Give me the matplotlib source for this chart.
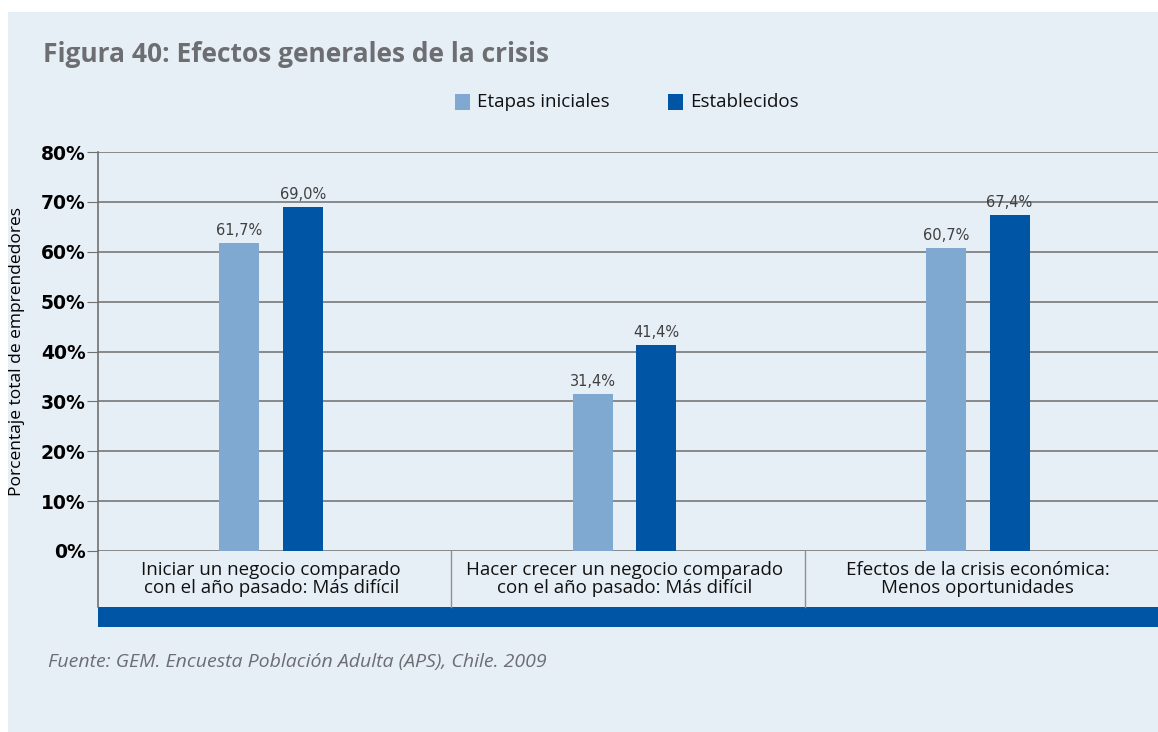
import matplotlib.pyplot as plt
from matplotlib.patches import Rectangle
from matplotlib.lines import Line2D

# data
categorias = ['Iniciar un negocio comparado\ncon el año pasado: Más difícil',
              'Hacer crecer un negocio comparado\ncon el año pasado: Más difícil',
              'Efectos de la crisis económica:\nMenos oportunidades']
etapas_iniciales = [61.7, 31.4, 60.7]
establecidos = [69.0, 41.4, 67.4]
series = ['Etapas iniciales', 'Establecidos']
yticks = [0, 10, 20, 30, 40, 50, 60, 70, 80]

c_claro = '#80a9d2'
c_oscuro = '#0055a4'
fondo = '#e6eef6'
gris = '#6d6e71'

plt.rcParams['font.family'] = ['Open Sans', 'DejaVu Sans']

W, H = 1158, 732
fig = plt.figure(figsize=(W / 100, H / 100), dpi=100)
fig.patch.set_facecolor('white')

# panel de fondo
fig.patches.append(Rectangle((8 / W, 0), 1 - 8 / W, 1 - 12 / H, transform=fig.transFigure,
                             facecolor=fondo, edgecolor='none', zorder=-10))

x0, x1 = 98 / W, 1.0
yb, yt = (H - 551) / H, (H - 152) / H
ax = fig.add_axes([x0, yb, x1 - x0, yt - yb])
ax.set_facecolor(fondo)

w = 0.113
off = 0.09
xs = [i + 0.49 for i in range(len(categorias))]
b1 = ax.bar([x - off for x in xs], etapas_iniciales, width=w, color=c_claro, zorder=3)
b2 = ax.bar([x + off for x in xs], establecidos, width=w, color=c_oscuro, zorder=3)

for bars, vals in ((b1, etapas_iniciales), (b2, establecidos)):
    for b, v in zip(bars, vals):
        ax.text(b.get_x() + b.get_width() / 2, v + 1.0, f'{v:.1f}%'.replace('.', ','),
                ha='center', va='bottom', fontsize=10.5, color='#404040',
                family=['DejaVu Sans'])

ax.set_xlim(0, 3)
ax.set_ylim(0, 80)
ax.set_yticks(yticks)
ax.set_yticklabels([f'{t}%' for t in yticks], fontsize=13.5, fontweight='bold',
                   family=['DejaVu Sans'])
ax.tick_params(axis='y', length=8, color='#707070', pad=1)
ax.set_xticks([])
ax.yaxis.grid(True, color='#6e6e6e', linewidth=1.1)
ax.set_axisbelow(True)
for s in ('top', 'right', 'bottom'):
    ax.spines[s].set_visible(False)
ax.spines['left'].set_color('#707070')
ax.spines['left'].set_linewidth(1.2)
ax.set_ylabel('Porcentaje total de emprendedores', fontsize=12.5, labelpad=2)
ax.yaxis.set_label_coords(-73 / (W * (x1 - x0)), 0.5)

# caja de categorías bajo el eje
ybox = (H - 607) / H
fig.add_artist(Line2D([x0, x0], [ybox, yb], transform=fig.transFigure, color='#707070', lw=1.2))
for k in (1, 2):
    xf = x0 + (x1 - x0) * k / 3
    fig.add_artist(Line2D([xf, xf], [ybox, yb], transform=fig.transFigure, color='#909090', lw=1.0))
for i, cat in enumerate(categorias):
    xf = x0 + (x1 - x0) * (i + 0.49) / 3
    fig.text(xf, (yb + ybox) / 2, cat, ha='center', va='center', fontsize=13.5,
             color='#111111', linespacing=1.05)
fig.patches.append(Rectangle((x0, (H - 627) / H), x1 - x0, 20 / H, transform=fig.transFigure,
                             facecolor=c_oscuro, edgecolor='none'))

# título y leyenda
fig.text(43 / W, 1 - 55 / H, 'Figura 40: Efectos generales de la crisis', fontsize=19,
         fontweight='bold', color=gris, va='center', ha='left')
for xl, lab, col in ((455, series[0], c_claro), (668, series[1], c_oscuro)):
    fig.patches.append(Rectangle((xl / W, 1 - 110 / H), 15 / W, 16 / H,
                                 transform=fig.transFigure, facecolor=col, edgecolor='none'))
    fig.text((xl + 22) / W, 1 - 102 / H, lab, fontsize=13.5, va='center', ha='left', color='#111111')

fig.text(48 / W, 1 - 662 / H, 'Fuente: GEM. Encuesta Población Adulta (APS), Chile. 2009',
         fontsize=14, style='italic', color=gris, va='center', ha='left')

fig.savefig('out.png', dpi=100, facecolor=fig.get_facecolor())
